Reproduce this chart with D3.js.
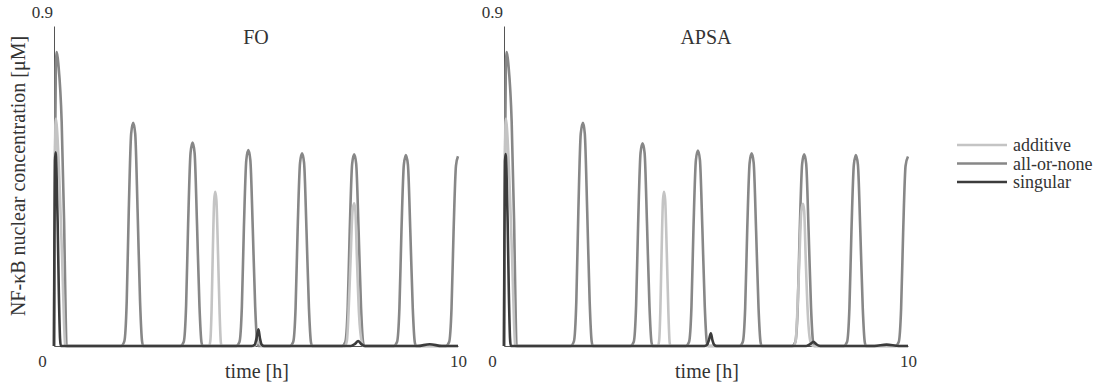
<!DOCTYPE html>
<html>
<head>
<meta charset="utf-8">
<script src="https://cdn.jsdelivr.net/npm/d3@7"></script>
<style>
  body { margin: 0; background: #fff; }
  svg text { font-family: "Liberation Serif", serif !important; fill: #333; }
</style>
</head>
<body>
<div class="container"></div>
<script>
// names / labels
const seriesNames = ["additive", "all-or-none", "singular"];
const panelTitles = ["FO", "APSA"];
const xTicks = [0, 10];
const yTicks = [0.9];

// data: [time h, nuclear NF-kB uM]
const foAllOrNone = [
  [0, 0], [0.02, 0.45], [0.045, 0.78], [0.07, 0.827], [0.11, 0.79], [0.19, 0.63], [0.25, 0.35], [0.29, 0.08], [0.31, 0],
  [1.66, 0], [1.74, 0.013], [1.80, 0.126], [1.85, 0.377], [1.91, 0.597], [1.96, 0.628], [2.01, 0.597], [2.07, 0.377], [2.13, 0.126], [2.18, 0.013], [2.21, 0],
  [3.13, 0], [3.21, 0.011], [3.27, 0.114], [3.32, 0.343], [3.38, 0.543], [3.43, 0.572], [3.48, 0.543], [3.54, 0.343], [3.60, 0.114], [3.65, 0.011], [3.68, 0],
  [4.51, 0], [4.59, 0.011], [4.65, 0.110], [4.70, 0.331], [4.76, 0.523], [4.81, 0.551], [4.86, 0.523], [4.92, 0.331], [4.98, 0.110], [5.03, 0.011], [5.06, 0],
  [5.84, 0], [5.92, 0.011], [5.98, 0.108], [6.03, 0.325], [6.09, 0.515], [6.14, 0.542], [6.19, 0.515], [6.25, 0.325], [6.31, 0.108], [6.36, 0.011], [6.39, 0],
  [7.13, 0], [7.21, 0.011], [7.27, 0.108], [7.32, 0.323], [7.38, 0.512], [7.43, 0.539], [7.48, 0.512], [7.54, 0.323], [7.60, 0.108], [7.65, 0.011], [7.68, 0],
  [8.41, 0], [8.49, 0.011], [8.55, 0.107], [8.60, 0.322], [8.66, 0.510], [8.71, 0.537], [8.76, 0.510], [8.82, 0.322], [8.88, 0.107], [8.93, 0.011], [8.96, 0],
  [9.70, 0], [9.78, 0.011], [9.84, 0.107], [9.89, 0.320], [9.95, 0.507], [10, 0.534]
];
const foAdditive = [
  [0, 0], [0.015, 0.4], [0.035, 0.62], [0.05, 0.64], [0.08, 0.6], [0.14, 0.45], [0.2, 0.25], [0.25, 0.06], [0.28, 0],
  [3.84, 0], [3.87, 0.015], [3.90, 0.10], [3.93, 0.26], [3.965, 0.41], [3.99, 0.434], [4.02, 0.41], [4.06, 0.26], [4.10, 0.09], [4.13, 0.01], [4.15, 0],
  [4.95, 0], [5.05, 0.01], [5.15, 0],
  [7.20, 0], [7.25, 0.015], [7.30, 0.12], [7.34, 0.24], [7.39, 0.38], [7.43, 0.401], [7.46, 0.38], [7.50, 0.24], [7.55, 0.09], [7.62, 0.01], [7.66, 0],
  [10, 0]
];
const foSingular = [
  [0, 0], [0.01, 0.3], [0.025, 0.52], [0.04, 0.545], [0.06, 0.5], [0.09, 0.35], [0.12, 0.15], [0.15, 0.02], [0.17, 0],
  [4.90, 0], [4.97, 0.004], [5.01, 0.02], [5.06, 0.047], [5.10, 0.02], [5.14, 0.004], [5.2, 0],
  [7.35, 0], [7.45, 0.006], [7.53, 0.014], [7.6, 0.006], [7.7, 0],
  [9.0, 0], [9.3, 0.005], [9.6, 0],
  [10, 0]
];

const apsaAllOrNone = [
  [0, 0], [0.02, 0.45], [0.045, 0.78], [0.07, 0.827], [0.11, 0.79], [0.19, 0.63], [0.25, 0.35], [0.29, 0.08], [0.31, 0],
  [1.65, 0], [1.73, 0.013], [1.79, 0.126], [1.84, 0.377], [1.90, 0.597], [1.955, 0.628], [2.00, 0.597], [2.06, 0.377], [2.12, 0.126], [2.17, 0.013], [2.20, 0],
  [3.13, 0], [3.21, 0.011], [3.27, 0.114], [3.32, 0.343], [3.38, 0.543], [3.43, 0.570], [3.48, 0.543], [3.54, 0.343], [3.60, 0.114], [3.65, 0.011], [3.68, 0],
  [4.50, 0], [4.58, 0.011], [4.64, 0.110], [4.69, 0.331], [4.75, 0.523], [4.80, 0.550], [4.85, 0.523], [4.91, 0.331], [4.97, 0.110], [5.02, 0.011], [5.05, 0],
  [5.83, 0], [5.91, 0.011], [5.97, 0.108], [6.02, 0.325], [6.08, 0.515], [6.13, 0.542], [6.18, 0.515], [6.24, 0.325], [6.30, 0.108], [6.35, 0.011], [6.38, 0],
  [7.13, 0], [7.21, 0.011], [7.27, 0.108], [7.32, 0.323], [7.38, 0.512], [7.43, 0.539], [7.48, 0.512], [7.54, 0.323], [7.60, 0.108], [7.65, 0.011], [7.68, 0],
  [8.41, 0], [8.49, 0.011], [8.55, 0.107], [8.60, 0.322], [8.66, 0.510], [8.71, 0.537], [8.76, 0.510], [8.82, 0.322], [8.88, 0.107], [8.93, 0.011], [8.96, 0],
  [9.69, 0], [9.77, 0.011], [9.83, 0.107], [9.88, 0.320], [9.94, 0.507], [10, 0.533]
];
const apsaAdditive = [
  [0, 0], [0.015, 0.4], [0.035, 0.62], [0.05, 0.64], [0.08, 0.6], [0.14, 0.45], [0.2, 0.25], [0.25, 0.06], [0.28, 0],
  [3.81, 0], [3.84, 0.015], [3.87, 0.10], [3.90, 0.26], [3.935, 0.41], [3.96, 0.434], [3.99, 0.41], [4.03, 0.26], [4.07, 0.09], [4.10, 0.01], [4.12, 0],
  [7.17, 0], [7.22, 0.015], [7.27, 0.12], [7.31, 0.24], [7.36, 0.38], [7.40, 0.40], [7.43, 0.38], [7.47, 0.24], [7.52, 0.09], [7.59, 0.01], [7.66, 0],
  [10, 0]
];
const apsaSingular = [
  [0, 0], [0.01, 0.3], [0.025, 0.52], [0.04, 0.54], [0.06, 0.5], [0.09, 0.35], [0.12, 0.15], [0.15, 0.02], [0.17, 0],
  [4.96, 0], [5.03, 0.004], [5.07, 0.016], [5.12, 0.036], [5.16, 0.016], [5.20, 0.004], [5.26, 0],
  [7.48, 0], [7.58, 0.005], [7.66, 0.012], [7.73, 0.005], [7.83, 0],
  [9.17, 0], [9.47, 0.004], [9.77, 0],
  [10, 0]
];

const panels = [
  { title: panelTitles[0], series: [foAllOrNone, foAdditive, foSingular] },
  { title: panelTitles[1], series: [apsaAllOrNone, apsaAdditive, apsaSingular] }
];

// chart dimensions
const width = 1099;
const height = 388;
const plotLeft = [54, 504];
const plotWidth = 404;
const plotTop = 26;
const plotBottom = 346;
const serif = "Liberation Serif, serif";
// order in panels.series: all-or-none, additive, singular
const lineColors = ["#878787", "#c4c4c4", "#3c3c3c"];
const legendColors = { "additive": "#c4c4c4", "all-or-none": "#878787", "singular": "#3c3c3c" };

const svg = d3.select("div.container")
  .append("svg")
  .attr("width", width)
  .attr("height", height)
  .attr("font-family", serif);

const yScale = d3.scaleLinear().domain([0, 0.9]).range([plotBottom, plotTop]);

panels.forEach((p, i) => {
  const x0 = plotLeft[i];
  const xScale = d3.scaleLinear().domain([0, 10]).range([x0, x0 + plotWidth]);

  // axes
  const xAxis = d3.axisBottom(xScale).tickValues(xTicks).tickSize(0).tickPadding(9).tickSizeOuter(0);
  const yAxis = d3.axisLeft(yScale).tickValues(yTicks).tickSize(0).tickSizeOuter(0).tickFormat(d3.format(".1f"));

  const gx = svg.append("g").attr("transform", `translate(0,${plotBottom})`).call(xAxis)
    .attr("font-family", serif).attr("font-size", 17);
  gx.select(".domain").attr("stroke", "#555").attr("stroke-width", 1);
  gx.selectAll(".tick text").attr("fill", "#333")
    .attr("dx", (d) => d === 0 ? -12 : 0);

  const gy = svg.append("g").attr("transform", `translate(${x0},0)`).call(yAxis)
    .attr("font-family", serif).attr("font-size", 17);
  gy.select(".domain").attr("stroke", "#555").attr("stroke-width", 1);
  gy.selectAll(".tick text").attr("fill", "#333")
    .attr("x", -1).attr("dy", "-0.5em");

  const line = d3.line()
    .x((d) => xScale(d[0]))
    .y((d) => yScale(d[1]))
    .curve(d3.curveMonotoneX);

  svg.append("g").selectAll("path").data(p.series).enter().append("path")
    .attr("d", line)
    .attr("fill", "none")
    .attr("stroke", (d, j) => lineColors[j])
    .attr("stroke-width", 2.6)
    .attr("stroke-linejoin", "round");

  // panel title
  svg.append("text").attr("x", xScale(5)).attr("y", 44).attr("text-anchor", "middle")
    .attr("font-size", 20).text(p.title);

  // x label
  svg.append("text").attr("x", x0 + 203).attr("y", 378).attr("text-anchor", "middle")
    .attr("font-size", 20).text("time [h]");
});

// y label
svg.append("text")
  .attr("transform", `translate(25,176) rotate(-90)`)
  .attr("text-anchor", "middle")
  .attr("font-size", 20)
  .text("NF-\u03baB nuclear concentration [\u03bcM]");

// legend
const legend = svg.append("g").attr("transform", "translate(957,145)");
seriesNames.forEach((name, i) => {
  const row = legend.append("g").attr("transform", `translate(0,${i * 18.5})`);
  row.append("line").attr("x1", 0).attr("x2", 50).attr("y1", 0).attr("y2", 0)
    .attr("stroke", legendColors[name]).attr("stroke-width", 2.6);
  row.append("text").attr("x", 56).attr("dy", "0.35em").attr("font-size", 18).text(name);
});
</script>
</body>
</html>
